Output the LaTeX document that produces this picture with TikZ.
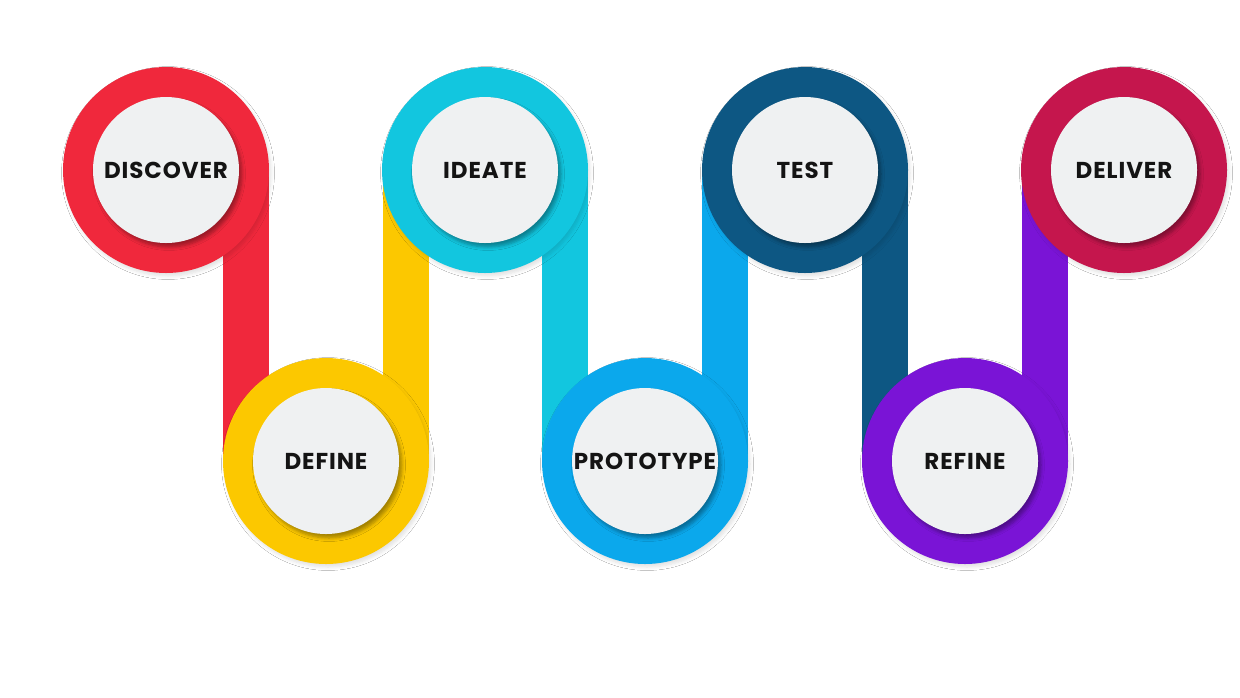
\documentclass[tikz,border=0pt]{standalone}
\usepackage{fontspec}
\newfontfamily\stepfont{Poppins}[LetterSpace=4]
\usetikzlibrary{calc,backgrounds,shadows.blur}
\definecolor{discoverred}{HTML}{F0283C}
\definecolor{defineyellow}{HTML}{FCC800}
\definecolor{ideatecyan}{HTML}{12C6DF}
\definecolor{protoblue}{HTML}{0BA8EC}
\definecolor{testnavy}{HTML}{0D5783}
\definecolor{refinepurple}{HTML}{7A14D6}
\definecolor{delivercrimson}{HTML}{C5164D}
\definecolor{discfill}{HTML}{EFF1F2}
\definecolor{labelink}{HTML}{141414}
\tikzset{
  ring/.style={circle,fill=#1,minimum size=103pt,inner sep=0pt,
    blur shadow={shadow xshift=1pt,shadow yshift=-1.5pt,shadow opacity=12,shadow blur steps=6}},
  disc/.style={circle,fill=discfill,minimum size=73pt,inner sep=0pt,
    text=labelink,font=\stepfont\bfseries\fontsize{11.5}{13}\selectfont,
    blur shadow={shadow xshift=1.5pt,shadow yshift=-2pt,shadow opacity=35,shadow blur steps=5}},
  bar/.style={draw=#1,line width=23pt}
}
\begin{document}
\begin{tikzpicture}[x=0.5pt,y=-0.5pt]
 \useasboundingbox (0,0) rectangle (1240,697);
 % the seven steps
 \foreach \n/\x/\y/\c/\t in {discover/166/170/discoverred/DISCOVER,
     define/326/461/defineyellow/DEFINE,ideate/485/170/ideatecyan/IDEATE,
     prototype/645/461/protoblue/PROTOTYPE,test/805/170/testnavy/TEST,
     refine/965/461/refinepurple/REFINE,deliver/1124/170/delivercrimson/DELIVER}
   {\node[ring=\c] (\n) at (\x,\y) {};
    \node[disc] (\n-label) at (\n) {\t};}
 % bars behind the rings
 \begin{pgfonlayer}{background}
 \fill[white] (0,0) rectangle (1240,697);
 \foreach \a/\b/\c in {discover/define/discoverred,define/ideate/defineyellow,
     ideate/prototype/ideatecyan,prototype/test/protoblue,
     test/refine/testnavy,refine/deliver/refinepurple}
   {\coordinate (\a-mid) at ($(\a)!0.5!(\b)$);
    \draw[bar=\c] (\a-mid |- \a) -- (\a-mid |- \b);}
 \end{pgfonlayer}
\end{tikzpicture}
\end{document}
